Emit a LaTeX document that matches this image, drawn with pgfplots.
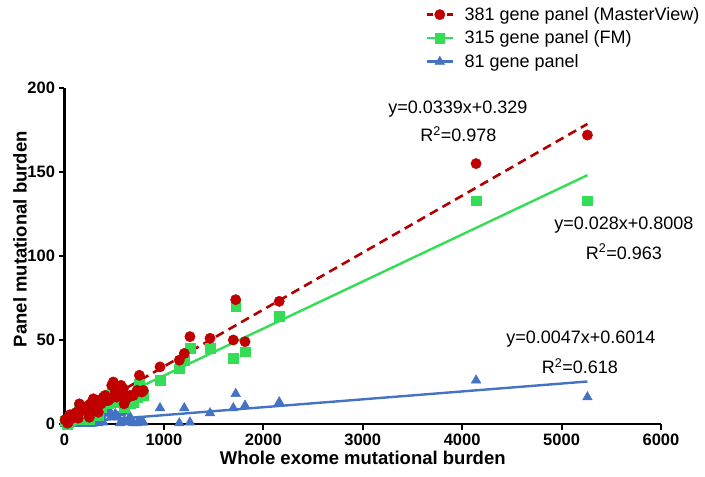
\documentclass[border=0pt]{standalone}
\usepackage{fontspec}
\setmainfont{Liberation Sans}
\usepackage{pgfplots}
\usepackage{pgfplotstable}
\pgfplotsset{compat=1.18}
\definecolor{cred}{RGB}{192,0,0}
\definecolor{credline}{RGB}{176,0,0}
\definecolor{cgreen}{RGB}{51,221,85}
\definecolor{cblue}{RGB}{68,114,196}

\pgfplotsset{
  legred/.style={legend image code/.code={\draw[credline, line width=2.5pt, dash pattern=on 6pt off 4pt] (0pt,0pt) -- (26pt,0pt); \draw[##1] plot coordinates {(13pt,0pt)};}},
  leggreen/.style={legend image code/.code={\draw[cgreen, line width=2.5pt] (0pt,0pt) -- (26pt,0pt); \draw[##1] plot coordinates {(13pt,0pt)};}},
  legblue/.style={legend image code/.code={\draw[cblue, line width=2.5pt] (0pt,0pt) -- (26pt,0pt); \draw[##1] plot coordinates {(13pt,0pt)};}},
}

\pgfplotstableread{
x red green blue
5260 172 133 16
4140 155 133 26
2160 73 64 13
1722 74 70 18
1698 50 39 9.5
1816 49 43 11
1464 51 45 6.5
1262 52 45 1
1205 42 38 9.5
1155 38 33 0.5
961 34 26 9.5
753 29 24 1.5
793 20 17 1
692 17 13 0.5
659 17 12 4.3
592 21 15 7.3
568 23 20 6.4
525 16 13 5
491 25 21 4.3
458 15 17 7.3
425 14 12 8.3
407 17 15 6
357 13 11 3
307 8 7 1
290 15 12 0.5
240 11 9 0.5
206 8 7 0.5
173 10 8 1
139 3.5 3 0.3
106 6 5 0.5
80 5 4 0
55 5.5 4 0
38 1 1 0
20 3 2 0
5 2.5 2 0
250 4 3 0
340 7 5 0.5
600 12 10 2
223 9 7 0.4
120 7 6 0.3
60 3 2 0.2
30 0.5 0 0
150 12 10 1
280 13 11 0.3
320 10 8 2
100 4 3 0
130 6 5 0.3
160 8 6 0.5
190 9 8 0.2
230 10 9 0.5
260 12 10 0.4
300 11 9 0.8
330 14 12 2
370 12 10 5
390 16 14 1
440 14 12 7.3
475 23 20 5
510 19 16 6
540 21 18 4
558 17 15 0.5
620 15 13 1
642 16 14 2
730 20 16 0.5
776 19 17 1
}\samples

\begin{document}
\begin{tikzpicture}[x=1pt,y=1pt]
\useasboundingbox (0,0) rectangle (705,477);
\begin{axis}[
  at={(64.5pt,53pt)}, anchor=south west,
  scale only axis, width=596.5pt, height=336pt,
  xmin=0, xmax=6000, ymin=0, ymax=200,
  axis lines=left,
  axis line style={-, line width=2.2pt, black},
  xtick={0,1000,...,6000}, ytick={0,50,...,200},
  tick align=outside,
  major tick length=6pt,
  tick style={line width=2pt, black},
  /pgf/number format/1000 sep={},
  /pgf/number format/assume math mode=true,
  ticklabel style={font=\bfseries\fontsize{16.5}{18}\selectfont},
  xlabel={Whole exome mutational burden},
  ylabel={Panel mutational burden},
  label style={font=\bfseries\fontsize{18.5}{20}\selectfont},
  xlabel style={at={(axis description cs:0.5,0)}, anchor=center, yshift=-34pt},
  ylabel style={at={(axis description cs:-0.0746,0.55)}, anchor=center},
  clip=false,
  reverse legend,
  legend style={at={(axis description cs:0.605,1.245)}, anchor=north west,
    draw=none, fill=none, font=\fontsize{18}{21}\selectfont,
    row sep=6pt, inner sep=0pt,
    nodes={inner sep=1.5pt},
    /tikz/every odd column/.append style={column sep=9pt}},
  legend cell align=left,
]
\addplot[only marks, mark=triangle*, mark size=5.6pt, color=cblue, legblue]
  table[x=x, y=blue] {\samples};
\addplot[only marks, mark=square*, mark size=4.8pt, color=cgreen, leggreen]
  table[x=x, y=green] {\samples};
\addplot[only marks, mark=*, mark size=5.2pt, color=cred, legred]
  table[x=x, y=red] {\samples};
% fit lines
\addplot[forget plot, no marks, credline, line width=2.6pt, dash pattern=on 9pt off 5.5pt] coordinates {(5,0.5) (5260,178.6)};
\addplot[forget plot, no marks, cgreen, line width=2.4pt] coordinates {(5,0.94) (5260,148.1)};
\addplot[forget plot, no marks, cblue, line width=2.4pt] coordinates {(5,0.62) (5260,25.3)};
\legend{81 gene panel, 315 gene panel (FM), 381 gene panel (MasterView)}
\node[font=\fontsize{18}{20}\selectfont] at (axis cs:3957,187.3) {y=0.0339x+0.329};
\node[font=\fontsize{18}{20}\selectfont] at (axis cs:3962,172.6) {R\textsuperscript{2}=0.978};
\node[font=\fontsize{18}{20}\selectfont] at (axis cs:5626,118.5) {y=0.028x+0.8008};
\node[font=\fontsize{18}{20}\selectfont] at (axis cs:5626,102.6) {R\textsuperscript{2}=0.963};
\node[font=\fontsize{18}{20}\selectfont] at (axis cs:5194,50.3) {y=0.0047x+0.6014};
\node[font=\fontsize{18}{20}\selectfont] at (axis cs:5184,34.5) {R\textsuperscript{2}=0.618};
\end{axis}
\end{tikzpicture}
\end{document}
